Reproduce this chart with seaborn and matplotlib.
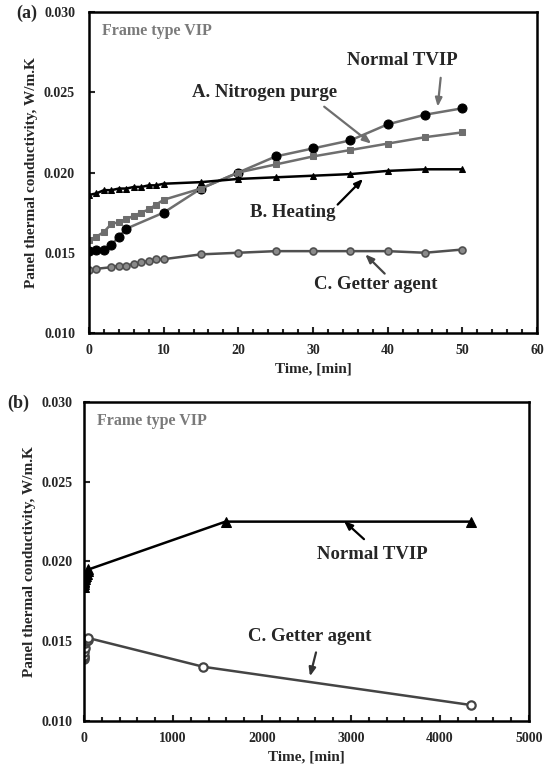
import matplotlib
matplotlib.use("Agg")
import matplotlib.pyplot as plt
import seaborn as sns
import numpy as np
from matplotlib.ticker import MultipleLocator, FormatStrFormatter

# ---------------- data: panel (a) ----------------
a_tvip_t = [0, 1, 2, 3, 4, 5, 10, 15, 20, 25, 30, 35, 40, 45, 50]
a_tvip_k = [0.0151, 0.0152, 0.0152, 0.0155, 0.0160, 0.0165, 0.0175, 0.0190, 0.0200,
            0.0210, 0.0215, 0.0220, 0.0230, 0.0236, 0.0240]

a_n2_t = [0, 1, 2, 3, 4, 5, 6, 7, 8, 9, 10, 15, 20, 25, 30, 35, 40, 45, 50]
a_n2_k = [0.0158, 0.0160, 0.0163, 0.0168, 0.0169, 0.0171, 0.0173, 0.0175, 0.0177,
          0.0180, 0.0183, 0.0190, 0.0200, 0.0205, 0.0210, 0.0214, 0.0218, 0.0222, 0.0225]

a_heat_t = [0, 1, 2, 3, 4, 5, 6, 7, 8, 9, 10, 15, 20, 25, 30, 35, 40, 45, 50]
a_heat_k = [0.0186, 0.0187, 0.0189, 0.0189, 0.0190, 0.0190, 0.0191, 0.0191, 0.0192,
            0.0192, 0.0193, 0.0194, 0.0196, 0.0197, 0.0198, 0.0199, 0.0201, 0.0202, 0.0202]

a_get_t = [0, 1, 3, 4, 5, 6, 7, 8, 9, 10, 15, 20, 25, 30, 35, 40, 45, 50]
a_get_k = [0.0139, 0.0140, 0.0141, 0.0142, 0.0142, 0.0143, 0.0144, 0.0145, 0.0146,
           0.0146, 0.0149, 0.0150, 0.0151, 0.0151, 0.0151, 0.0151, 0.0150, 0.0152]

# ---------------- data: panel (b) ----------------
b_tvip_t = [0, 1, 3, 5, 10, 15, 20, 30, 40, 50, 1590, 4350]
b_tvip_k = [0.0184, 0.0186, 0.0187, 0.0188, 0.0189, 0.0190, 0.0191, 0.0192, 0.0194,
            0.0195, 0.0225, 0.0225]

b_get_t = [0, 1, 3, 5, 10, 15, 20, 30, 40, 50, 1340, 4350]
b_get_k = [0.0139, 0.0140, 0.0141, 0.0143, 0.0146, 0.0149, 0.0150, 0.0151, 0.0151,
           0.0152, 0.0134, 0.0110]

a_xticks = [0, 10, 20, 30, 40, 50, 60]
b_xticks = [0, 1000, 2000, 3000, 4000, 5000]
yticks = [0.010, 0.015, 0.020, 0.025, 0.030]

# ---------------- style ----------------
sns.set_style("ticks")
plt.rcParams["font.family"] = ["Liberation Serif", "DejaVu Serif"]
plt.rcParams["font.weight"] = "bold"
plt.rcParams["axes.labelweight"] = "bold"

fig = plt.figure(figsize=(5.52, 7.66), dpi=100)
ax1 = fig.add_axes([89 / 552, 1 - 333 / 766, 448 / 552, 321 / 766])
ax2 = fig.add_axes([84 / 552, 1 - 721 / 766, 445 / 552, 319 / 766])

GRAY = "#6e6e6e"
DGRAY = "#444444"

# panel (a)
sns.lineplot(x=a_tvip_t, y=a_tvip_k, ax=ax1, color=GRAY, lw=1.8, marker="o",
             markersize=6.5, markerfacecolor="black", markeredgecolor="black", sort=False)
sns.lineplot(x=a_n2_t, y=a_n2_k, ax=ax1, color=GRAY, lw=1.8, marker="s",
             markersize=4, markerfacecolor=GRAY, markeredgecolor=GRAY, sort=False)
sns.lineplot(x=a_heat_t, y=a_heat_k, ax=ax1, color="black", lw=1.8, marker="^",
             markersize=4.2, markerfacecolor="black", markeredgecolor="black", sort=False)
sns.lineplot(x=a_get_t, y=a_get_k, ax=ax1, color="#505050", lw=1.8, marker="o",
             markersize=5, markerfacecolor="#8a8a8a", markeredgecolor="#505050",
             markeredgewidth=1.2, sort=False)

# panel (b)
sns.lineplot(x=b_tvip_t, y=b_tvip_k, ax=ax2, color="black", lw=1.8, marker="^",
             markersize=6.5, markerfacecolor="black", markeredgecolor="black", sort=False)
sns.lineplot(x=b_get_t, y=b_get_k, ax=ax2, color=DGRAY, lw=1.8, marker="o",
             markersize=6, markerfacecolor="white", markeredgecolor=DGRAY,
             markeredgewidth=1.6, sort=False)

for ax, xt, xmax, xminor, ypad in [(ax1, a_xticks, 60, 2, 10), (ax2, b_xticks, 5000, 200, 8.5)]:
    ax.set_xlim(0, xmax)
    ax.set_ylim(0.010, 0.030)
    ax.set_xticks(xt)
    ax.set_yticks(yticks)
    ax.xaxis.set_minor_locator(MultipleLocator(xminor))
    ax.yaxis.set_major_formatter(FormatStrFormatter("%.3f"))
    ax.tick_params(axis="both", which="major", direction="in", length=4, width=1.5,
                   labelsize=10)
    ax.tick_params(axis="x", which="major", pad=8)
    ax.tick_params(axis="y", which="major", pad=ypad)
    ax.tick_params(axis="x", which="minor", direction="in", length=3, width=1.5)
    for s in ax.spines.values():
        s.set_linewidth(1.8)
        s.set_color("black")
        s.set_visible(True)
    for lab in ax.get_xticklabels() + ax.get_yticklabels():
        lab.set_fontweight("bold")
    ax.set_xlabel("Time, [min]", fontsize=11, fontweight="bold", labelpad=4)
    ax.set_ylabel("Panel thermal conductivity, W/m.K", fontsize=11, fontweight="bold",
                  labelpad=4)
    ax.text(0.03, 0.94, "Frame type VIP", transform=ax.transAxes, fontsize=11.5,
            fontweight="bold", color="#7a7a7a", ha="left", va="center")

fig.text(16 / 552, 1 - 13 / 766, "(a)", fontsize=13, fontweight="bold", ha="left", va="center")
fig.text(7 / 552, 1 - 403 / 766, "(b)", fontsize=13, fontweight="bold", ha="left", va="center")

def note(ax, text, xy, xytext, tx, color):
    ax.annotate("", xy=xy, xytext=xytext,
                arrowprops=dict(arrowstyle="-|>,head_length=0.5,head_width=0.2",
                                color=color, lw=1.6, shrinkA=0, shrinkB=0))
    ax.text(tx[0], tx[1], text, fontsize=13.5, fontweight="bold", ha="center", va="center")

note(ax1, "Normal TVIP", (46.7, 0.0241), (47.1, 0.0259), (42.0, 0.0270), GRAY)
note(ax1, "A. Nitrogen purge", (37.8, 0.0218), (31.5, 0.0241), (23.5, 0.0250), GRAY)
note(ax1, "B. Heating", (36.7, 0.0196), (33.3, 0.0180), (27.3, 0.0175), "black")
note(ax1, "C. Getter agent", (37.0, 0.0149), (39.6, 0.0137), (38.4, 0.0130), DGRAY)

note(ax2, "Normal TVIP", (2921, 0.02254), (3146, 0.0214), (3236, 0.02047), "black")
note(ax2, "C. Getter agent", (2539, 0.0128), (2607, 0.0143), (2539, 0.01527), "#333333")

fig.savefig("out.png", dpi=100)
